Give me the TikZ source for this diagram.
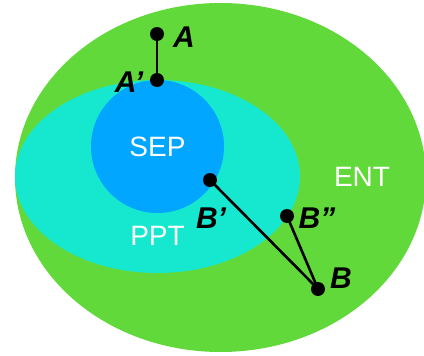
\documentclass[tikz,border=0pt]{standalone}
\usepackage{fontspec}
\setmainfont{Liberation Sans}
\definecolor{entgreen}{RGB}{98,217,58}
\definecolor{pptcyan}{RGB}{22,232,208}
\definecolor{sepblue}{RGB}{0,166,255}
\tikzset{
  pt/.style={circle,fill=black,inner sep=0pt,minimum size=14pt},
  ptlabel/.style={inner sep=0pt,font=\fontsize{30}{32}\selectfont\bfseries\itshape},
  setlabel/.style={inner sep=0pt,text=white,font=\fontsize{28}{30}\selectfont},
  seg/.style={line width=2.6pt,black}
}
\begin{document}
\begin{tikzpicture}[x=1pt,y=-1pt]
\useasboundingbox (0,0) rectangle (424,356);
\clip (0,0) rectangle (424,356);
\fill[entgreen] (220.5,177.5) ellipse [x radius=205.5, y radius=174.5];
\fill[pptcyan] (157.5,176.5) ellipse [x radius=142.5, y radius=96.5];
\fill[sepblue] (157.5,146.5) circle [radius=66.5];
\node[setlabel] (sep) at (157.5,147) {SEP};
\node[setlabel] (ppt) at (157.5,236) {PPT};
\node[setlabel] (ent) at (362,177) {ENT};
\node[pt] (A) at (157,34) {};
\node[pt] (Ap) at (157,80) {};
\node[pt] (Bp) at (210,180) {};
\node[pt] (Bpp) at (287,216) {};
\node[pt] (B) at (318,289) {};
\draw[seg] (A.center) -- (Ap.center);
\draw[seg] (Bp.center) -- (B.center);
\draw[seg] (Bpp.center) -- (B.center);
\node[ptlabel] (lA) at (184,37) {A};
\node[ptlabel] (lAp) at (129,82) {A’};
\node[ptlabel] (lBp) at (211,218) {B’};
\node[ptlabel] (lBpp) at (317,218) {B”};
\node[ptlabel] (lB) at (341,278) {B};
\end{tikzpicture}
\end{document}
